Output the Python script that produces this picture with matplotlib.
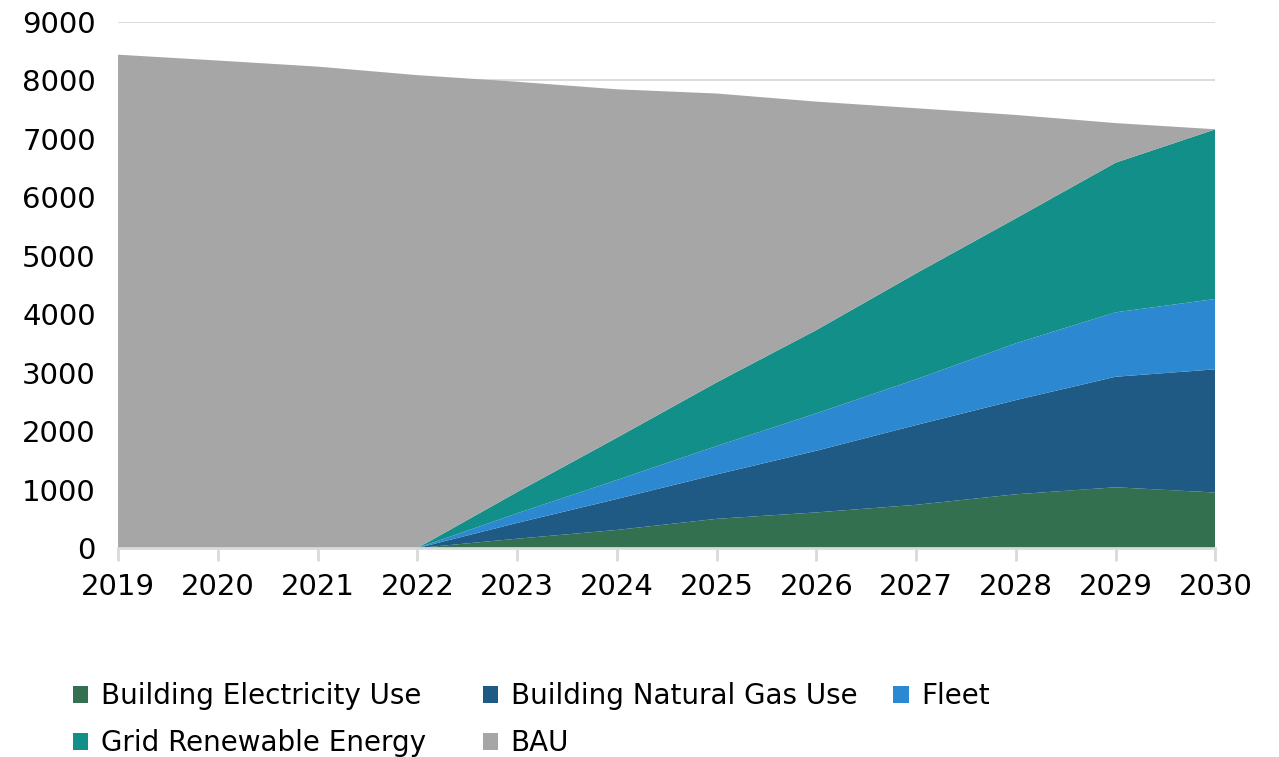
import numpy as np
import matplotlib.pyplot as plt
from matplotlib.patches import Patch

years = [2019, 2020, 2021, 2022, 2023, 2024, 2025, 2026, 2027, 2028, 2029, 2030]
elec = [0, 0, 0, 0, 160, 310, 500, 610, 740, 920, 1040, 950]
gas = [0, 0, 0, 0, 270, 530, 760, 1055, 1365, 1612, 1891, 2108]
fleet = [0, 0, 0, 0, 164, 324, 486, 640, 782, 971, 1102, 1203]
grid = [0, 0, 0, 0, 364, 724, 1088, 1425, 1813, 2138, 2560, 2903]
bau = [8440, 8340, 8236, 8090, 7019, 5960, 4942, 3907, 2824, 1768, 677, 0]

labels = ["Building Electricity Use", "Building Natural Gas Use", "Fleet",
          "Grid Renewable Energy", "BAU"]
colors = ["#327050", "#1F5A85", "#2C88D1", "#138F8A", "#A6A6A6"]

plt.rcParams['font.family'] = 'DejaVu Sans'

fig = plt.figure(figsize=(12.79, 7.57), dpi=100)
ax = fig.add_axes([0.0923, 0.276, 0.858, 0.695])

ax.stackplot(years, elec, gas, fleet, grid, bau, colors=colors, labels=labels,
             zorder=2)

ax.set_xlim(2019, 2030)
ax.set_ylim(0, 9000)
ax.set_xticks(years)
ax.set_yticks(range(0, 9001, 1000))
ax.grid(axis='y', color='#D9D9D9', linewidth=1.3, zorder=0)
ax.set_axisbelow(True)

for s in ['top', 'right', 'left']:
    ax.spines[s].set_visible(False)
ax.spines['bottom'].set_color('#D9D9D9')
ax.spines['bottom'].set_linewidth(2)
ax.spines['bottom'].set_zorder(3)

ax.tick_params(axis='x', length=9, width=2, color='#D9D9D9', labelsize=21, pad=9)
ax.tick_params(axis='y', length=0, labelsize=21, pad=16)

# legend laid out as three fixed-width columns, like the original
columns = [[0, 3], [1, 4], [2]]
xs = [0.0375, 0.358, 0.679]
for col, x in zip(columns, xs):
    handles = [Patch(facecolor=colors[i]) for i in col]
    fig.legend(handles, [labels[i] for i in col], ncol=1, frameon=False,
               loc='upper left', bbox_to_anchor=(x, 0.132), fontsize=20,
               handlelength=0.55, handleheight=0.55, handletextpad=0.45,
               labelspacing=0.68)

fig.savefig("out.png", dpi=100)
